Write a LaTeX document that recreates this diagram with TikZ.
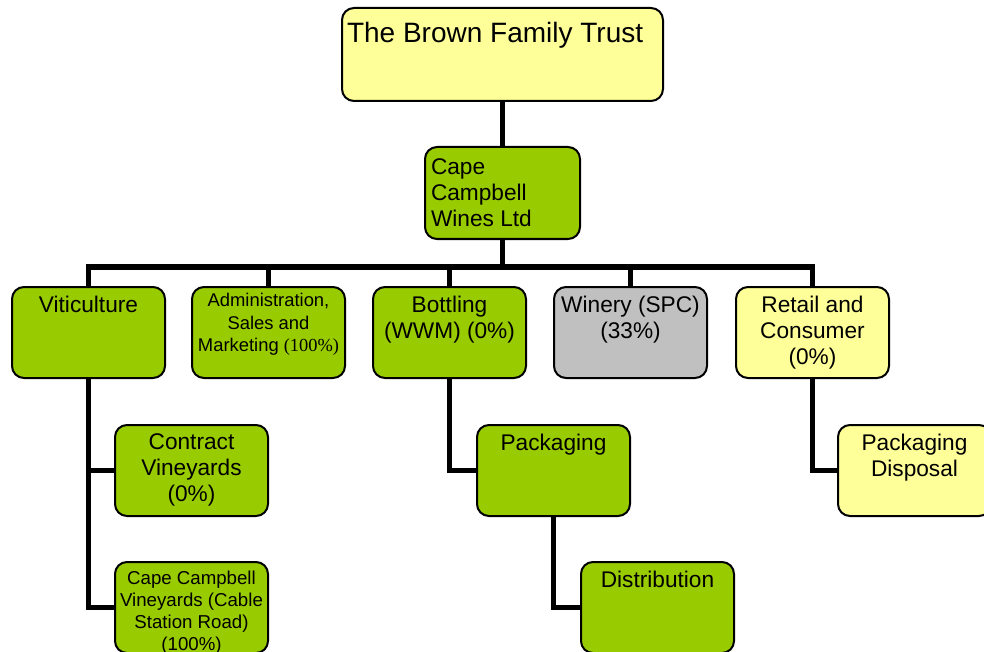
\documentclass[tikz,border=0pt]{standalone}
\usepackage{fontspec}
\setmainfont{Liberation Sans}
\newfontfamily\timesfont{Liberation Serif}

\definecolor{trustyellow}{HTML}{FFFF99}
\definecolor{unitgreen}{HTML}{99CC00}
\definecolor{unitgrey}{HTML}{C0C0C0}

\newcommand{\unittext}[2][0pt]{\parbox[c][54.75pt][t]{108.75pt}{\centering\vspace*{#1}#2}}

\tikzstyle{unit} = [draw=black,line width=1.5pt,rounded corners=9pt,anchor=north west,inner xsep=3pt,inner ysep=6.75pt,outer sep=0pt,fill=unitgreen,font=\fontsize{17}{19.5}\selectfont]
\tikzstyle{link} = [line width=4pt]

\begin{document}
\begin{tikzpicture}[x=0.75pt,y=-0.75pt]

	\useasboundingbox (0,0) rectangle (984,652);

	\node (trust) [unit,fill=trustyellow,inner xsep=3.75pt,inner ysep=10.5pt,font=\fontsize{21}{24}\selectfont] at (342,8)
		{\parbox[c][48.75pt][t]{233.25pt}{\raggedright The Brown Family Trust}};
	\node (wines) [unit,inner xsep=4.5pt,inner ysep=9pt] at (425,147)
		{\parbox[c][51pt][t]{107.25pt}{\raggedright Cape\\Campbell\\Wines Ltd}};

	\node (vitic) [unit] at (12,287) {\unittext{Viticulture}};
	\node (admin) [unit,font=\fontsize{13.8}{16.9}\selectfont] at (192,287)
		{\unittext[-1.9pt]{Administration,\\Sales and\\Marketing {\timesfont(100\%)}}};
	\node (bottling) [unit] at (373,287) {\unittext{Bottling\\(WWM) (0\%)}};
	\node (winery) [unit,fill=unitgrey] at (554,287) {\unittext{Winery (SPC)\\(33\%)}};
	\node (retail) [unit,fill=trustyellow] at (736,287) {\unittext{Retail and\\Consumer\\(0\%)}};

	\node (contract) [unit] at (115,425) {\unittext{Contract\\Vineyards\\(0\%)}};
	\node (ccv) [unit,font=\fontsize{14}{16.5}\selectfont] at (115,562)
		{\unittext{Cape Campbell\\\mbox{Vineyards (Cable}\\Station Road)\\(100\%)}};
	\node (packaging) [unit] at (477,425) {\unittext{Packaging}};
	\node (distribution) [unit] at (581,562) {\unittext{Distribution}};
	\node (disposal) [unit,fill=trustyellow] at (838,425) {\unittext{Packaging\\Disposal}};

	\draw[link] (trust.south) -- (wines.north);
	\foreach \u in {vitic,admin,bottling,winery,retail}
		\draw[link] (wines.south) -- ++(0,28) -| (\u.north);

	\draw[link] (vitic.south) |- (contract.west);
	\draw[link] (vitic.south) |- (ccv.west);
	\draw[link] (bottling.south) |- (packaging.west);
	\draw[link] (packaging.south) |- (distribution.west);
	\draw[link] (retail.south) |- (disposal.west);

\end{tikzpicture}
\end{document}
